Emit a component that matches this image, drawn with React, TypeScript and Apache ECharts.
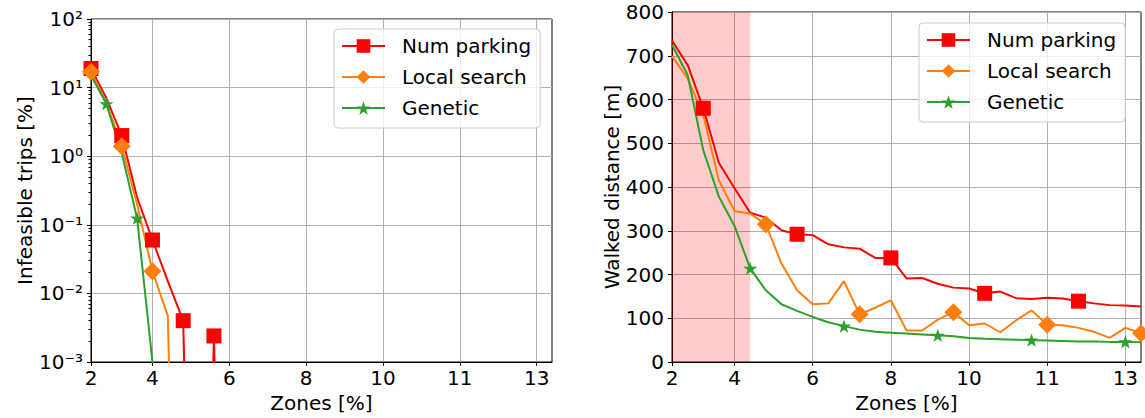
import React, { useEffect, useRef } from 'react';
import * as echarts from 'echarts';

// x positions (index along the zone axis) and the tick labels placed on them
const xIdx = [0, 1, 2, 3, 4, 5, 6, 7, 8, 9, 10, 11, 12, 13, 14, 15, 16, 17, 18, 19, 20, 21, 22, 23, 24, 25, 26, 27, 28, 29, 30];
const xTickIdx = [0, 4, 9, 14, 19, 24, 29];
const xTickLabels = ['2', '4', '6', '8', '10', '11', '13'];

const seriesNames = ['Num parking', 'Local search', 'Genetic'];
const seriesColors = ['#ff0000', '#ff7f0e', '#2ca02c'];

// Left: infeasible trips [%] (0 = no infeasible trips, drawn as a drop to the bottom)
const infeasibleNum = [19, 7, 2.0, 0.25, 0.06, 0.015, 0.004, 0, 0.0024, 0, 0, 0, 0, 0, 0, 0, 0, 0, 0, 0, 0, 0, 0, 0, 0, 0, 0, 0, 0, 0, 0];
const infeasibleLocal = [17, 6, 1.4, 0.2, 0.021, 0.0047, 0, 0, 0, 0, 0, 0, 0, 0, 0, 0, 0, 0, 0, 0, 0, 0, 0, 0, 0, 0, 0, 0, 0, 0, 0];
const infeasibleGen = [15, 5.8, 1.1, 0.125, 0.001, 0, 0, 0, 0, 0, 0, 0, 0, 0, 0, 0, 0, 0, 0, 0, 0, 0, 0, 0, 0, 0, 0, 0, 0, 0, 0];

// Right: walked distance [m]
const walkedNum = [735, 679, 580, 455, 397, 341, 330, 301, 292, 290, 269, 262, 259, 238, 238, 191, 192, 179, 170, 168, 157, 161, 146, 144, 147, 145, 139, 134, 130, 129, 127];
const walkedLocal = [699, 648, 565, 415, 345, 339, 315, 225, 164, 132, 134, 185, 109, 124, 141, 72, 72, 97, 114, 84, 88, 68, 95, 118, 85, 84, 78, 69, 55, 78, 66];
const walkedGen = [725, 656, 484, 378, 311, 214, 164, 132, 117, 103, 91, 82, 74, 69, 67, 65, 63, 61, 59, 55, 53, 52, 51, 50, 49, 48, 47, 47, 46, 46, 45];

// marker positions
const leftMarks = [[0, 2, 4, 6, 8], [0, 2, 4], [1, 3]];
const rightMarks = [[2, 8, 14, 20, 26], [6, 12, 18, 24, 30], [5, 11, 17, 23, 29]];

// shaded range on the right chart (x index)
const shadeRange = [0, 5];

// log axis limits and minor tick multipliers
const logMin = 0.001;
const logMax = 100;
const minorMult = [2, 3, 4, 5, 6, 7, 8, 9];

const FONT = 'DejaVu Sans';
const STAR = 'path://M50,0 L61.8,35.1 L98.1,35.1 L68.8,56.7 L79.4,91.3 L50,70 L20.6,91.3 L31.2,56.7 L1.9,35.1 L38.2,35.1 Z';
const symbols = ['rect', 'diamond', STAR];
const symbolSizes = [15, 18, 14];

const supMap: Record<string, string> = { '0': '⁰', '1': '¹', '2': '²', '3': '³', '-': '⁻' };
const toSup = (n: number) => String(n).split('').map((c) => supMap[c] || c).join('');

export default function App() {
  const ref = useRef<HTMLDivElement>(null);

  useEffect(() => {
    if (!ref.current) return;
    const chart = echarts.init(ref.current, null, { renderer: 'svg' });

    const makeData = (vals: number[], marks: number[], isLog: boolean) =>
      vals.map((v, i) => {
        const y = isLog && v <= 0 ? 1e-12 : v;
        const item: any = { value: [xIdx[i], y] };
        if (!marks.includes(xIdx[i])) item.symbol = 'none';
        return item;
      });

    const leftVals = [infeasibleNum, infeasibleLocal, infeasibleGen];
    const rightVals = [walkedNum, walkedLocal, walkedGen];

    const lineSeries = (vals: number[], k: number, marks: number[], isLog: boolean, axis: number) => ({
      type: 'line',
      name: seriesNames[k],
      xAxisIndex: axis,
      yAxisIndex: axis === 0 ? 0 : 2,
      data: makeData(vals, marks, isLog),
      symbol: symbols[k],
      symbolSize: symbolSizes[k],
      symbolKeepAspect: true,
      showSymbol: true,
      clip: true,
      z: 3,
      lineStyle: { color: seriesColors[k], width: 2 },
      itemStyle: { color: seriesColors[k], borderWidth: 0 },
      emphasis: { disabled: true },
    });

    const minorLogs: number[] = [];
    for (let d = Math.log10(logMin); d < Math.log10(logMax); d++) {
      minorMult.forEach((m) => minorLogs.push(d + Math.log10(m)));
    }

    const tickLabelStyle = { fontSize: 20, color: '#000', fontFamily: FONT };
    const nameStyle = { fontSize: 20, color: '#000', fontFamily: FONT };
    const splitLine = { show: true, lineStyle: { color: '#b0b0b0', width: 1 } };
    const axisLine = { show: true, onZero: false, lineStyle: { color: '#000', width: 1 } };

    const xAxis = (gi: number) => ({
      gridIndex: gi,
      type: 'value',
      position: 'bottom',
      min: 0,
      max: 30,
      axisLine,
      axisTick: { show: true, customValues: xTickIdx, length: 4, lineStyle: { color: '#000' } },
      axisLabel: {
        customValues: xTickIdx,
        formatter: (v: number) => {
          const j = xTickIdx.indexOf(Math.round(v));
          return j >= 0 ? xTickLabels[j] : '';
        },
        margin: 6,
        ...tickLabelStyle,
      },
      splitLine,
      name: 'Zones [%]',
      nameLocation: 'middle',
      nameGap: 30,
      nameTextStyle: nameStyle,
    });

    const legend = (left: number, top: number) => ({
      left,
      top,
      orient: 'vertical',
      data: seriesNames,
      itemWidth: 43,
      itemHeight: 17,
      itemGap: 11,
      padding: [7, 9, 10, 7],
      backgroundColor: 'rgba(255,255,255,0.8)',
      borderColor: '#cccccc',
      borderWidth: 1,
      borderRadius: 4,
      selectedMode: false,
      textStyle: { fontSize: 20, color: '#000', fontFamily: FONT, lineHeight: 20, padding: [0, 0, 0, 12] },
    });

    const option: any = {
      animation: false,
      backgroundColor: '#fff',
      textStyle: { fontFamily: FONT },
      grid: [
        { left: 91, top: 19, width: 461, height: 343, show: true, borderColor: '#000', borderWidth: 1, backgroundColor: 'transparent' },
        { left: 672, top: 12, width: 469, height: 350, show: true, borderColor: '#000', borderWidth: 1, backgroundColor: 'transparent' },
      ],
      xAxis: [xAxis(0), xAxis(1)],
      yAxis: [
        {
          gridIndex: 0,
          type: 'log',
          logBase: 10,
          position: 'left',
          min: logMin,
          max: logMax,
          axisLine,
          axisTick: { show: true, length: 4, lineStyle: { color: '#000' } },
          axisLabel: {
            formatter: (v: number) => '10' + toSup(Math.round(Math.log10(v))),
            margin: 8,
            ...tickLabelStyle,
          },
          splitLine,
          name: 'Infeasible trips [%]',
          nameLocation: 'middle',
          nameGap: 54,
          nameTextStyle: nameStyle,
        },
        {
          gridIndex: 0,
          type: 'value',
          position: 'left',
          min: Math.log10(logMin),
          max: Math.log10(logMax),
          axisLine: { show: false, onZero: false },
          axisLabel: { show: false },
          splitLine: { show: false },
          axisTick: { show: true, customValues: minorLogs, length: 2.5, lineStyle: { color: '#000' } },
        },
        {
          gridIndex: 1,
          type: 'value',
          position: 'left',
          min: 0,
          max: 800,
          interval: 100,
          axisLine,
          axisTick: { show: true, length: 4, lineStyle: { color: '#000' } },
          axisLabel: { margin: 8, ...tickLabelStyle },
          splitLine,
          name: 'Walked distance [m]',
          nameLocation: 'middle',
          nameGap: 50,
          nameTextStyle: nameStyle,
        },
      ],
      legend: [legend(334, 29), legend(919, 23)],
      series: [
        {
          type: 'line',
          xAxisIndex: 1,
          yAxisIndex: 2,
          data: [],
          z: -1,
          silent: true,
          markArea: {
            silent: true,
            itemStyle: { color: 'rgba(255,0,0,0.2)' },
            data: [[{ xAxis: shadeRange[0] }, { xAxis: shadeRange[1] }]],
          },
        },
        ...leftVals.map((v, k) => lineSeries(v, k, leftMarks[k], true, 0)),
        ...rightVals.map((v, k) => lineSeries(v, k, rightMarks[k], false, 1)),
      ],
    };

    chart.setOption(option);
    return () => chart.dispose();
  }, []);

  return <div ref={ref} style={{ position: 'absolute', left: 0, top: 0, width: 1145, height: 418 }} />;
}
